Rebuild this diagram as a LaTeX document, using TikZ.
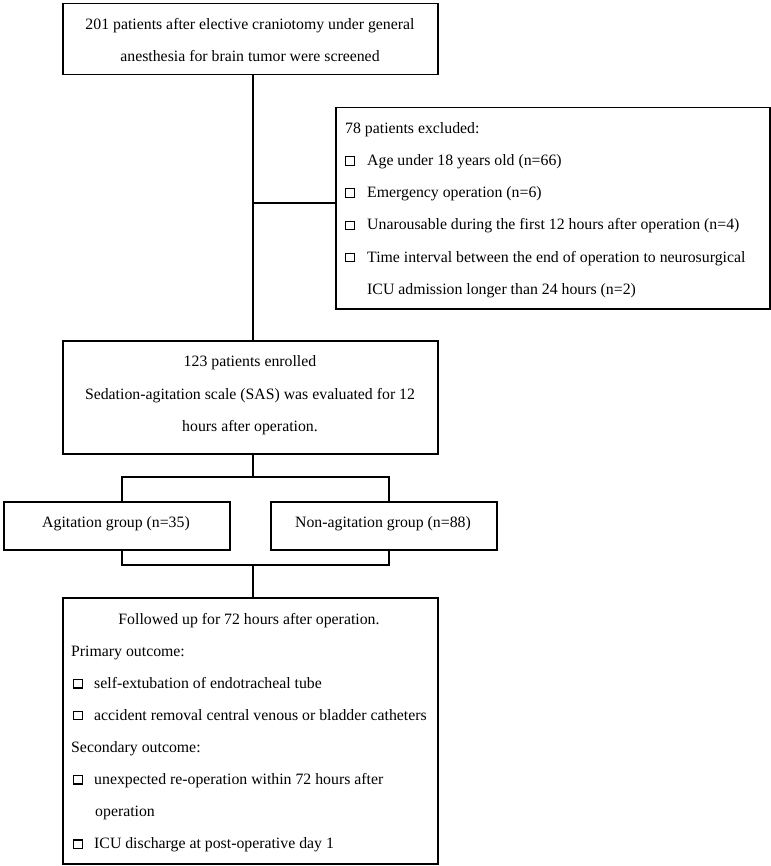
\documentclass[tikz,border=0pt]{standalone}
\usepackage{fontspec}
\setmainfont{Liberation Serif}
\newcommand\cbx{\raisebox{1pt}{\setlength\fboxsep{0pt}\setlength\fboxrule{1.2pt}\fbox{\rule{0pt}{7.2pt}\rule{7.2pt}{0pt}}}}
\begin{document}
\begin{tikzpicture}[x=1pt,y=-1pt,
  box/.style={draw, line width=1.5pt, inner sep=0pt, anchor=north west},
  txt/.style={inner sep=0pt, font=\fontsize{15.8}{19}\selectfont},
  conn/.style={line width=1.5pt, line join=miter}]
\useasboundingbox (0,0) rectangle (770,866);
\fill[white] (0,0) rectangle (770,866);
% boxes
\node[box, minimum width=375pt, minimum height=71pt] (b1) at (62,3) {};
\node[box, minimum width=434pt, minimum height=201pt] (excl) at (335,107) {};
\node[box, minimum width=375pt, minimum height=113pt] (b2) at (62,340) {};
\node[box, minimum width=226pt, minimum height=48pt] (ag) at (3,501) {};
\node[box, minimum width=226pt, minimum height=48pt] (non) at (270,501) {};
\node[box, minimum width=375pt, minimum height=266pt] (b4) at (62,597) {};
% junction coordinates
\coordinate (tk) at (253,0);
\coordinate (j1) at (253,203);
\coordinate (j2) at (253,477);
\coordinate (ja) at (122,477);
\coordinate (jn) at (389,477);
\coordinate (ka) at (122,565);
\coordinate (kn) at (389,565);
\coordinate (k2) at (253,565);
% connectors
\draw[conn] (b1.south -| tk) -- (b2.north -| tk);
\draw[conn] (j1) -- (j1 -| excl.west);
\draw[conn] (b2.south -| tk) -- (j2);
\draw[conn] (ja |- ag.north) -- (ja) -- (jn) -- (jn |- non.north);
\draw[conn] (ka |- ag.south) -- (ka) -- (kn) -- (kn |- non.south);
\draw[conn] (k2) -- (b4.north -| tk);
% box 1 text
\node[txt, anchor=base] (t11) at (250,30) {201 patients after elective craniotomy under general};
\node[txt, anchor=base] (t12) at (250,61.7) {anesthesia for brain tumor were screened};
% excluded text
\node[txt, anchor=base west] (e0) at (345,133.3) {78 patients excluded:};
\node[txt, anchor=base west] (e1) at (345,165.7) {\cbx\hspace{12.4pt}Age under 18 years old (n=66)};
\node[txt, anchor=base west] (e2) at (345,197.7) {\cbx\hspace{12.4pt}Emergency operation (n=6)};
\node[txt, anchor=base west] (e3) at (345,230) {\cbx\hspace{12.4pt}Unarousable during the first 12 hours after operation (n=4)};
\node[txt, anchor=base west] (e4) at (345,262.3) {\cbx\hspace{12.4pt}Time interval between the end of operation to neurosurgical};
\node[txt, anchor=base west] (e5) at (367,294.3) {ICU admission longer than 24 hours (n=2)};
% enrolled text
\node[txt, anchor=base] (t21) at (250,366.7) {123 patients enrolled};
\node[txt, anchor=base] (t22) at (250,399) {Sedation-agitation scale (SAS) was evaluated for 12};
\node[txt, anchor=base] (t23) at (250,431) {hours after operation.};
% groups
\node[txt, anchor=base] (ta) at (116,527.3) {Agitation group (n=35)};
\node[txt, anchor=base] (tn) at (383,527.3) {Non-agitation group (n=88)};
% follow-up text
\node[txt, anchor=base] (f0) at (249,624) {Followed up for 72 hours after operation.};
\node[txt, anchor=base west] (f1) at (71,656) {Primary outcome:};
\node[txt, anchor=base west] (f2) at (73,688.3) {\cbx\hspace{11.4pt}self-extubation of endotracheal tube};
\node[txt, anchor=base west] (f3) at (73,720) {\cbx\hspace{11.4pt}accident removal central venous or bladder catheters};
\node[txt, anchor=base west] (f4) at (71,752.3) {Secondary outcome:};
\node[txt, anchor=base west] (f5) at (73,784.3) {\cbx\hspace{11.4pt}unexpected re-operation within 72 hours after};
\node[txt, anchor=base west] (f6) at (95,816.7) {operation};
\node[txt, anchor=base west] (f7) at (73,848.7) {\cbx\hspace{11.4pt}ICU discharge at post-operative day 1};
\end{tikzpicture}
\end{document}
